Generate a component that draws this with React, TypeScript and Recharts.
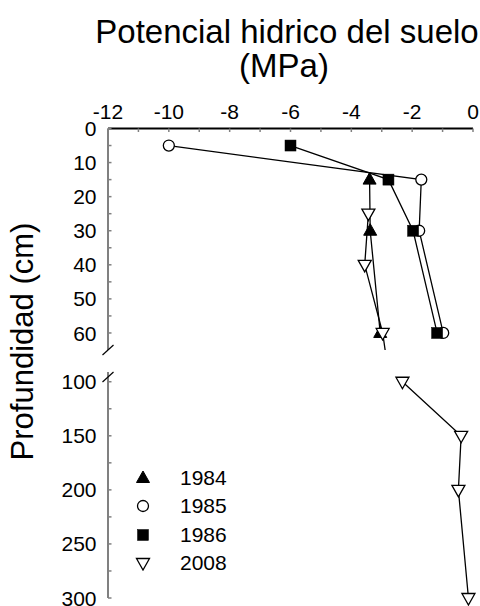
import React from 'react';
import { ScatterChart, Scatter, XAxis, YAxis, Legend } from 'recharts';

const FONT = '"Liberation Sans", Arial, Helvetica, sans-serif';

// Axis ticks
const xTicks = [-12, -11, -10, -9, -8, -7, -6, -5, -4, -3, -2, -1, 0];
const xLabels = [-12, -10, -8, -6, -4, -2, 0];
const upperYTicks = [0, 5, 10, 15, 20, 25, 30, 35, 40, 45, 50, 55, 60];
const upperYLabels = [0, 10, 20, 30, 40, 50, 60];
const lowerYTicks = [100, 125, 150, 175, 200, 225, 250, 275, 300];
const lowerYLabels = [100, 150, 200, 250, 300];
const UPPER_END = 65; // axis break (upper panel end)
const LOWER_START = 91; // axis break (lower panel start)
const LOWER_END = 300;

// Series: depth (cm) and soil water potential (MPa)
const depth1984 = [15, 30, 60];
const psi1984 = [-3.4, -3.38, -3.05];
const depth1985 = [5, 15, 30, 60];
const psi1985 = [-10.0, -1.7, -1.77, -0.98];
const depth1986 = [5, 15, 30, 60];
const psi1986 = [-6.0, -2.78, -1.97, -1.18];
const depth2008 = [25, 40, 60, 100, 150, 200, 300];
const psi2008 = [-3.44, -3.56, -2.97, -2.32, -0.39, -0.48, -0.15];

const build = (d: number[], p: number[]) => d.map((dd, i) => ({ d: dd, v: p[i] }));

const S = 1.3;
const TriUp = (props: any) => {
  const { cx, cy } = props;
  if (cx == null || cy == null) return null;
  return <polygon points={`${cx},${cy - 7} ${cx - 6.5},${cy + 4.5} ${cx + 6.5},${cy + 4.5}`} fill="#000" stroke="#000" strokeWidth={1} />;
};
const Circ = (props: any) => {
  const { cx, cy } = props;
  if (cx == null || cy == null) return null;
  return <circle cx={cx} cy={cy} r={5.5} fill="#fff" stroke="#000" strokeWidth={S} />;
};
const Sq = (props: any) => {
  const { cx, cy } = props;
  if (cx == null || cy == null) return null;
  return <rect x={cx - 5.5} y={cy - 5.5} width={11} height={11} fill="#000" stroke="#000" strokeWidth={0.5} />;
};
const TriDown = (props: any) => {
  const { cx, cy } = props;
  if (cx == null || cy == null) return null;
  return <polygon points={`${cx - 6.5},${cy - 4.5} ${cx + 6.5},${cy - 4.5} ${cx},${cy + 7}`} fill="#fff" stroke="#000" strokeWidth={S} />;
};

const series = [
  { name: '1985', data: build(depth1985, psi1985), shape: Circ },
  { name: '1986', data: build(depth1986, psi1986), shape: Sq },
  { name: '1984', data: build(depth1984, psi1984), shape: TriUp },
  { name: '2008', data: build(depth2008, psi2008), shape: TriDown },
];
const legendOrder = ['1984', '1985', '1986', '2008'];

const XTick = (props: any) => {
  const { x, y, payload } = props;
  const v = payload.value;
  return (
    <g>
      <line x1={x} y1={y} x2={x} y2={y + 3.5} stroke="#808080" strokeWidth={1.5} />
      {xLabels.includes(v) && (
        <text x={x} y={y - 9.5} textAnchor="middle" fontSize={21} fontFamily={FONT} fill="#000">
          {String(v)}
        </text>
      )}
    </g>
  );
};

const makeYTick = (labels: number[], breakVal: number, breakOffset: number) => (props: any) => {
  const { x, y, payload } = props;
  const v = payload.value;
  if (v === breakVal) {
    const cy = y + breakOffset;
    return <line x1={x - 5.5} y1={cy + 5} x2={x + 5.5} y2={cy - 5} stroke="#000" strokeWidth={1.2} />;
  }
  return (
    <g>
      <line x1={x} y1={y} x2={x + 3.5} y2={y} stroke="#808080" strokeWidth={1.5} />
      {labels.includes(v) && (
        <text x={x - 11.5} y={y} dy="0.36em" textAnchor="end" fontSize={21} fontFamily={FONT} fill="#000">
          {String(v)}
        </text>
      )}
    </g>
  );
};
const UpperYTick = makeYTick(upperYLabels, UPPER_END, 0);
const LowerYTick = makeYTick(lowerYLabels, LOWER_START, 5);

const legendShapes: Record<string, any> = { '1984': TriUp, '1985': Circ, '1986': Sq, '2008': TriDown };

const LegendContent = () => (
  <div style={{ fontFamily: FONT, fontSize: 21, color: '#000' }}>
    {legendOrder.map((n) => {
      const Shape = legendShapes[n];
      return (
        <div key={n} style={{ display: 'flex', alignItems: 'center', height: 28.3 }}>
          <svg width={16} height={16} style={{ display: 'block' }}>
            <Shape cx={8} cy={8} />
          </svg>
          <span style={{ marginLeft: 29, lineHeight: '28.3px' }}>{n}</span>
        </div>
      );
    })}
  </div>
);

export default function App() {
  return (
    <div style={{ position: 'absolute', left: 0, top: 0, width: 480, height: 606, background: '#fff' }}>
      <div style={{ position: 'absolute', left: 0, top: 0 }}>
        <ScatterChart width={480} height={360} margin={{ top: 98.5, right: 7, bottom: 10, left: 0 }}>
          <XAxis
            type="number"
            dataKey="v"
            orientation="top"
            domain={[-12, 0]}
            ticks={xTicks}
            interval={0}
            tick={XTick}
            tickLine={false}
            tickSize={0}
            tickMargin={0}
            height={30}
            axisLine={{ stroke: '#000', strokeWidth: 2 }}
            allowDataOverflow
          />
          <YAxis
            type="number"
            dataKey="d"
            reversed
            domain={[0, UPPER_END]}
            ticks={[...upperYTicks, UPPER_END]}
            interval={0}
            tick={UpperYTick}
            tickLine={false}
            tickSize={0}
            tickMargin={0}
            width={108}
            axisLine={{ stroke: '#808080', strokeWidth: 2 }}
            allowDataOverflow
          />
          {series.map((s) => (
            <Scatter
              key={s.name}
              name={s.name}
              data={s.data}
              shape={s.shape}
              line={{ stroke: '#000', strokeWidth: S }}
              lineJointType="linear"
              isAnimationActive={false}
            />
          ))}
        </ScatterChart>
      </div>
      <div style={{ position: 'absolute', left: 0, top: 0 }}>
        <ScatterChart width={480} height={606} margin={{ top: 372, right: 7, bottom: 8, left: 0 }}>
          <XAxis type="number" dataKey="v" domain={[-12, 0]} hide />
          <YAxis
            type="number"
            dataKey="d"
            reversed
            domain={[LOWER_START, LOWER_END]}
            ticks={[LOWER_START, ...lowerYTicks]}
            interval={0}
            tick={LowerYTick}
            tickLine={false}
            tickSize={0}
            tickMargin={0}
            width={108}
            axisLine={{ stroke: '#808080', strokeWidth: 2 }}
          />
          {series
            .filter((s) => s.data.some((p) => p.d >= LOWER_START))
            .map((s) => (
              <Scatter
                key={s.name}
                name={s.name}
                data={s.data.filter((p) => p.d >= LOWER_START)}
                shape={s.shape}
                line={{ stroke: '#000', strokeWidth: S }}
                lineJointType="linear"
                isAnimationActive={false}
              />
            ))}
          <Legend
            layout="vertical"
            align="center"
            verticalAlign="middle"
            content={LegendContent}
            wrapperStyle={{ position: 'absolute', left: 135, top: 464, width: 120, height: 120 }}
          />
        </ScatterChart>
      </div>
      <svg width={480} height={606} style={{ position: 'absolute', left: 0, top: 0, pointerEvents: 'none' }}>
        <text x={287} y={43} textAnchor="middle" fontSize={33} fontFamily={FONT} fill="#000">
          Potencial hidrico del suelo
        </text>
        <text x={284} y={77} textAnchor="middle" fontSize={33} fontFamily={FONT} fill="#000">
          (MPa)
        </text>
        <text transform="translate(33,341.5) rotate(-90)" textAnchor="middle" fontSize={31} fontFamily={FONT} fill="#000">
          Profundidad (cm)
        </text>
      </svg>
    </div>
  );
}
